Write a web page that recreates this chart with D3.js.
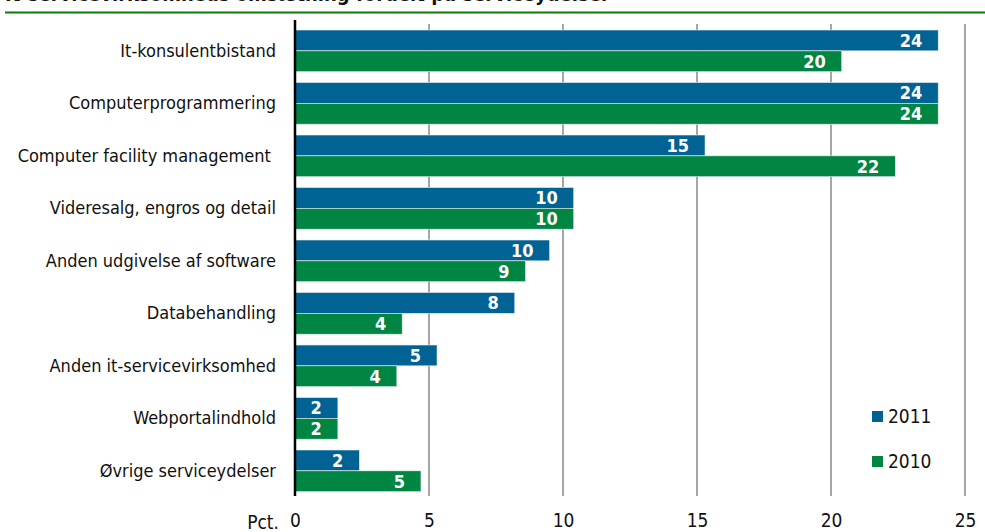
<!DOCTYPE html>
<html><head><meta charset="utf-8">
<script src="https://cdn.jsdelivr.net/npm/d3@7"></script>
<style>
body{margin:0;background:#fff;}
svg{display:block;}
text{white-space:pre;}
</style></head>
<body>
<svg id="chart" width="985" height="532"></svg>
<script>
const title = "It-servicevirksomheds omsætning fordelt på serviceydelser";
const categories = ["It-konsulentbistand","Computerprogrammering","Computer facility management ","Videresalg, engros og detail","Anden udgivelse af software","Databehandling","Anden it-servicevirksomhed","Webportalindhold","Øvrige serviceydelser"];
const series = ["2011","2010"];
const values2011 = [24.0, 24.0, 15.3, 10.4, 9.5, 8.2, 5.3, 1.6, 2.4];
const values2010 = [20.4, 24.0, 22.4, 10.4, 8.6, 4.0, 3.8, 1.6, 4.7];
const xTicks = [0, 5, 10, 15, 20, 25];
const axisUnit = "Pct.";
const colors = ["#006394", "#008542"];

const font = "'DejaVu Sans Condensed','Liberation Sans Narrow',sans-serif";
const svg = d3.select("#chart");

const x = d3.scaleLinear().domain([0, 25]).range([295, 965]);
const y = d3.scaleBand().domain(categories).range([19.2, 502.5]).padding(0.206);
const ySub = d3.scaleBand().domain(series).range([0, y.bandwidth()]);

// title (cut off at top) and rule
svg.append("text").attr("x", 5).attr("y", 1).attr("font-family", font)
  .attr("font-weight", "bold").attr("font-size", 20).attr("fill", "#111").text(title);
svg.append("line").attr("x1", 5).attr("x2", 985).attr("y1", 12.5).attr("y2", 12.5)
  .attr("stroke", "#0a7d0a").attr("stroke-width", 2);

// gridlines
svg.append("g").selectAll("line").data(xTicks.filter(d => d > 0)).join("line")
  .attr("x1", d => x(d)).attr("x2", d => x(d)).attr("y1", 24).attr("y2", 496)
  .attr("stroke", "#a6a6a6").attr("stroke-width", 2);

const data = [];
categories.forEach((c, i) => {
  data.push({cat: c, s: "2011", v: values2011[i]});
  data.push({cat: c, s: "2010", v: values2010[i]});
});

svg.append("g").selectAll("rect").data(data).join("rect")
  .attr("x", x(0)).attr("y", d => y(d.cat) + ySub(d.s))
  .attr("width", d => x(d.v) - x(0)).attr("height", ySub.bandwidth())
  .attr("fill", d => colors[series.indexOf(d.s)])
  .attr("stroke", "#e8f0f0").attr("stroke-width", 0.6);

svg.append("g").selectAll("text").data(data).join("text")
  .attr("x", d => x(d.v) - 16).attr("y", d => y(d.cat) + ySub(d.s) + ySub.bandwidth() / 2 + 6.5)
  .attr("text-anchor", "end").attr("font-family", font).attr("font-weight", "bold")
  .attr("font-size", 18).attr("fill", "#fff").text(d => d3.format(".0f")(d.v));

// category labels
svg.append("g").selectAll("text").data(categories).join("text")
  .attr("x", 276).attr("y", d => y(d) + y.bandwidth() / 2 + 6)
  .attr("text-anchor", "end").attr("font-family", font).attr("font-size", 18)
  .attr("fill", "#111").text(d => d);

// y axis line
svg.append("line").attr("x1", x(0)).attr("x2", x(0)).attr("y1", 20).attr("y2", 496)
  .attr("stroke", "#000").attr("stroke-width", 2.5);

// x axis tick labels
const xAxis = d3.axisBottom(x).tickValues(xTicks).tickSize(0).tickPadding(0);
const gx = svg.append("g").attr("transform", "translate(0,513)").call(xAxis);
gx.select(".domain").remove();
gx.selectAll("text").attr("font-family", font).attr("font-size", 19).attr("fill", "#111").attr("dy", "0.71em");
svg.append("text").attr("x", 279).attr("y", 529).attr("text-anchor", "end")
  .attr("font-family", font).attr("font-size", 19).attr("fill", "#111").text(axisUnit);

// legend
const leg = svg.append("g").selectAll("g").data(series).join("g")
  .attr("transform", (d, i) => `translate(872,${411 + i * 45})`);
leg.append("rect").attr("width", 11).attr("height", 11).attr("fill", (d, i) => colors[i]);
leg.append("text").attr("x", 16).attr("y", 12).attr("font-family", font).attr("font-size", 19)
  .attr("fill", "#111").text(d => d);
</script>
</body></html>
